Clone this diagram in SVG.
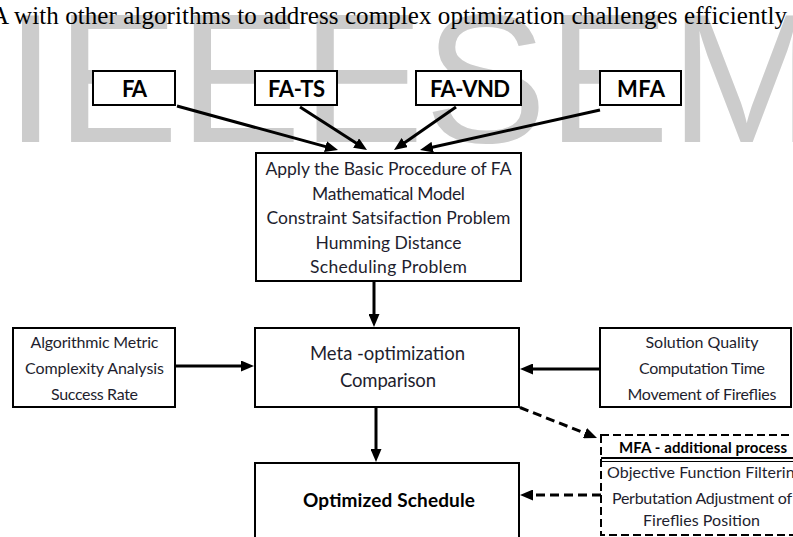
<svg xmlns="http://www.w3.org/2000/svg" width="793" height="537" viewBox="0 0 793 537">
<style>
.box{fill:#fff;stroke:#000;stroke-width:2}
.dbox{fill:#fff;stroke:#000;stroke-width:2;stroke-dasharray:8 4}
.lbl{font-family:Lato,"Open Sans",sans-serif;font-weight:bold;font-size:22px;fill:#000;text-anchor:middle}
.t{font-family:Lato,"Open Sans",sans-serif;fill:#1e1e2e;text-anchor:middle}
.m{font-size:17.5px}
.s{font-size:16px}
.b{font-weight:bold;fill:#000}
.conn{stroke:#000;stroke-width:3;fill:none}
.dash{stroke-dasharray:9 5}
</style>
<defs>
<marker id="ah" markerUnits="userSpaceOnUse" markerWidth="13" markerHeight="11" refX="5" refY="5.5" orient="auto" viewBox="0 0 13 11">
<path d="M0,0 L13,5.5 L0,11 z" fill="#000"/>
</marker>
</defs>
<rect width="793" height="537" fill="#fff"/>
<text x="5" y="142" font-family="Liberation Sans, Arial, sans-serif" font-size="184" fill="#cccccc">IEEESEM</text>
<text x="-9" y="24" font-family="Liberation Serif, Times New Roman, serif" font-size="25" fill="#000" textLength="796">A with other algorithms to address complex optimization challenges efficiently</text>

<g id="connectors">
<line class="conn" x1="177" y1="106" x2="330.3" y2="147.9" marker-end="url(#ah)"/>
<line class="conn" x1="300" y1="107" x2="360.3" y2="145.7" marker-end="url(#ah)"/>
<line class="conn" x1="456" y1="107" x2="400.6" y2="145.4" marker-end="url(#ah)"/>
<line class="conn" x1="600" y1="110" x2="427.8" y2="148.3" marker-end="url(#ah)"/>
<line class="conn" x1="374" y1="282" x2="374" y2="319" marker-end="url(#ah)"/>
<line class="conn" x1="175" y1="366" x2="246" y2="366" marker-end="url(#ah)"/>
<line class="conn" x1="600" y1="369" x2="528" y2="369" marker-end="url(#ah)"/>
<line class="conn" x1="376" y1="408" x2="376" y2="454" marker-end="url(#ah)"/>
<line class="conn dash" x1="520" y1="407.5" x2="589.6" y2="435" marker-end="url(#ah)"/>
<line class="conn dash" x1="601" y1="495" x2="528" y2="495" marker-end="url(#ah)"/>
</g>

<g id="n-fa">
<rect class="box" x="93" y="71" width="82" height="34"/>
<text class="lbl" x="134.5" y="97" textLength="25">FA</text>
</g>
<g id="n-fats">
<rect class="box" x="255" y="71" width="82" height="34"/>
<text class="lbl" x="296.5" y="97" textLength="57">FA-TS</text>
</g>
<g id="n-favnd">
<rect class="box" x="416" y="71" width="105" height="34"/>
<text class="lbl" x="470" y="97" textLength="80">FA-VND</text>
</g>
<g id="n-mfa">
<rect class="box" x="600" y="71" width="81" height="34"/>
<text class="lbl" x="641" y="97" textLength="48">MFA</text>
</g>

<g id="n-procedure">
<rect class="box" x="256" y="153" width="265" height="128"/>
<text class="t m" x="388.5" y="175" textLength="246">Apply the Basic Procedure of FA</text>
<text class="t m" x="388.5" y="200" textLength="153">Mathematical Model</text>
<text class="t m" x="388.5" y="224" textLength="244">Constraint Satsifaction Problem</text>
<text class="t m" x="388.5" y="249" textLength="146">Humming Distance</text>
<text class="t m" x="388.5" y="273" textLength="157">Scheduling Problem</text>
</g>

<g id="n-metrics">
<rect class="box" x="13" y="328" width="162" height="79"/>
<text class="t s" x="94.5" y="348" textLength="128">Algorithmic Metric</text>
<text class="t s" x="94.5" y="374" textLength="139">Complexity Analysis</text>
<text class="t s" x="94.5" y="400" textLength="87">Success Rate</text>
</g>

<g id="n-meta">
<rect class="box" x="255" y="328" width="264" height="79"/>
<text class="t" x="387.5" y="360" font-size="18.5" textLength="155">Meta -optimization</text>
<text class="t" x="388" y="387" font-size="18.5" textLength="96">Comparison</text>
</g>

<g id="n-quality">
<rect class="box" x="600" y="328" width="191" height="79"/>
<text class="t s" x="702" y="348" textLength="113">Solution Quality</text>
<text class="t s" x="702" y="374" textLength="126">Computation Time</text>
<text class="t s" x="702" y="400" textLength="149">Movement of Fireflies</text>
</g>

<g id="n-optimized">
<rect class="box" x="255" y="463" width="264" height="90"/>
<text class="t b" x="389" y="507" font-size="19" textLength="172">Optimized Schedule</text>
</g>

<g id="n-mfa-process">
<rect class="dbox" x="601" y="435" width="210" height="100"/>
<text class="t b" x="703" y="453" font-size="15" textLength="168">MFA - additional process</text>
<line x1="601" y1="458" x2="793" y2="458" stroke="#000" stroke-width="2"/>
<line x1="601" y1="461.5" x2="793" y2="461.5" stroke="#000" stroke-width="1"/>
<text class="t s" x="607" y="478" style="text-anchor:start" textLength="196">Objective Function Filtering</text>
<text class="t s" x="612" y="504" style="text-anchor:start" textLength="180">Perbutation Adjustment of</text>
<text class="t s" x="701.5" y="526" textLength="117">Fireflies Position</text>
</g>
</svg>
